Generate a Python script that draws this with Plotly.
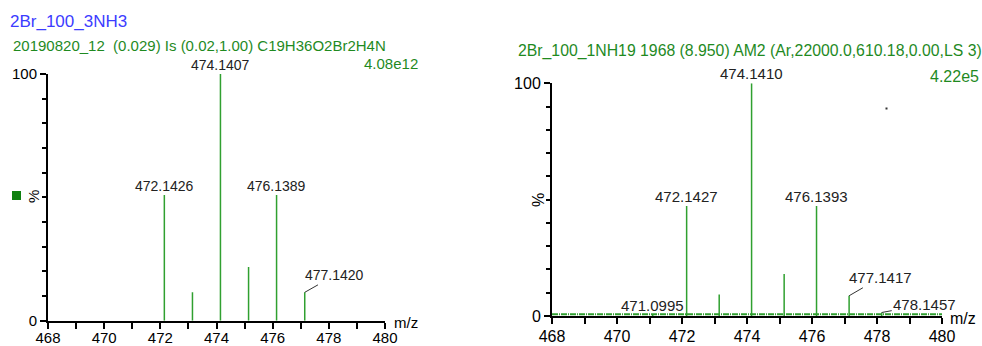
import plotly.graph_objects as go

# ---- data ----
left_mz = [472.1426, 473.1440, 474.1407, 475.1420, 476.1389, 477.1420]
left_int = [51.0, 11.5, 100.0, 21.8, 51.0, 11.5]
left_labels = ["472.1426", "", "474.1407", "", "476.1389", "477.1420"]

right_mz = [471.0995, 472.1427, 473.1445, 474.1410, 475.1430, 476.1393, 477.1417, 478.1457]
right_int = [0.6, 47.3, 9.2, 100.0, 18.0, 47.3, 8.7, 1.5]
right_labels = ["471.0995", "472.1427", "", "474.1410", "", "476.1393", "477.1417", "478.1457"]

noise_mz = [468.0, 480.0]
noise_level = [0.8, 0.8]

x_range = [468, 480]
y_range = [0, 100]

left_title = "2Br_100_3NH3"
left_info = "20190820_12 \u00a0(0.029) Is (0.02,1.00) C19H36O2Br2H4N"
left_scale = "4.08e12"
right_info = "2Br_100_1NH19 1968 (8.950) AM2 (Ar,22000.0,610.18,0.00,LS 3)"
right_scale = "4.22e5"

W, H = 982, 346
LINE_GREEN = "#30a030"
TEXT_GREEN = "#1f8a1f"
FONT = "Liberation Sans, Arial, sans-serif"


def stems(mz, inten):
    xs, ys = [], []
    for m, v in zip(mz, inten):
        xs += [m, m, None]
        ys += [0, v, None]
    return xs, ys


fig = go.Figure()
lx, ly = stems(left_mz, left_int)
fig.add_trace(go.Scatter(x=lx, y=ly, mode="lines", line=dict(color=LINE_GREEN, width=1.5),
                         xaxis="x", yaxis="y", hoverinfo="skip"))
fig.add_trace(go.Scatter(x=noise_mz, y=noise_level, mode="lines",
                         line=dict(color=LINE_GREEN, width=2, dash="6px,1px,1px,1px"),
                         xaxis="x2", yaxis="y2", hoverinfo="skip"))
rx, ry = stems(right_mz, right_int)
fig.add_trace(go.Scatter(x=rx, y=ry, mode="lines", line=dict(color=LINE_GREEN, width=1.5),
                         xaxis="x2", yaxis="y2", hoverinfo="skip"))


def px2x(px):
    return px / W


def px2y(py):
    return 1 - py / H


def xaxis_cfg(domain, anchor, fs, standoff):
    return dict(domain=domain, anchor=anchor, range=x_range, showgrid=False, zeroline=False,
                automargin=False, ticklabelstandoff=standoff,
                showline=True, linecolor="black", linewidth=2, ticks="outside", ticklen=6,
                tickwidth=1.5, tickcolor="black", tickmode="linear", tick0=468, dtick=2,
                tickfont=dict(family=FONT, size=fs, color="black"),
                minor=dict(dtick=1, tick0=468, ticks="outside", ticklen=6, tickwidth=1.5,
                           tickcolor="black"))


def yaxis_cfg(domain, anchor, fs):
    return dict(domain=domain, anchor=anchor, range=y_range, showgrid=False, zeroline=False,
                automargin=False,
                showline=True, linecolor="black", linewidth=2, ticks="outside", ticklen=6,
                tickwidth=1.5, tickcolor="black", tickmode="array", tickvals=[0, 100],
                ticktext=["0", "100"], tickfont=dict(family=FONT, size=fs, color="black"),
                minor=dict(dtick=10, tick0=0, ticks="outside", ticklen=4, tickwidth=1.5,
                           tickcolor="black"))


annotations = []


def peak_labels(mz, inten, labels, xref, yref, leaders, fs):
    for m, v, t in zip(mz, inten, labels):
        if not t:
            continue
        if t in leaders:
            axo, ayo = leaders[t]
            annotations.append(dict(x=m, y=v, xref=xref, yref=yref, text=t, showarrow=True,
                                    arrowhead=0, arrowwidth=1, arrowcolor="#333", ax=axo, ay=ayo,
                                    font=dict(family=FONT, size=fs, color="#222")))
        else:
            annotations.append(dict(x=m, y=v, xref=xref, yref=yref, text=t, showarrow=False,
                                    yanchor="bottom", yshift=-1,
                                    font=dict(family=FONT, size=fs, color="#222")))


peak_labels(left_mz, left_int, left_labels, "x", "y", {"477.1420": (30, -17)}, 14)
peak_labels(right_mz, right_int, right_labels, "x2", "y2",
            {"477.1417": (31, -18), "478.1457": (43, -8)}, 15)


def txt(px, py, text, color, size=14, xanchor="left", angle=0):
    annotations.append(dict(x=px2x(px), y=px2y(py), xref="paper", yref="paper", text=text,
                            showarrow=False, xanchor=xanchor, yanchor="middle", textangle=angle,
                            font=dict(family=FONT, size=size, color=color)))


txt(8, 21.5, left_title, "#3c3cff", size=17)
txt(11, 45.5, left_info, TEXT_GREEN, size=15)
txt(420, 63, left_scale, TEXT_GREEN, size=15, xanchor="right")
txt(516, 51.5, right_info, TEXT_GREEN, size=15.8)
txt(981, 76, right_scale, TEXT_GREEN, size=16, xanchor="right")
txt(33, 197, "%", "black", size=15, xanchor="center", angle=-90)
txt(538, 200, "%", "black", size=16, xanchor="center", angle=-90)
txt(406, 322, "m/z", "black", size=15, xanchor="center")
txt(963, 318, "m/z", "black", size=16, xanchor="center")

shapes = [
    dict(type="rect", xref="paper", yref="paper", x0=px2x(12), x1=px2x(21), y0=px2y(200),
         y1=px2y(191), fillcolor="#108010", line=dict(width=0)),
    dict(type="rect", xref="paper", yref="paper", x0=px2x(885.5), x1=px2x(887.5), y0=px2y(109.5),
         y1=px2y(107.5), fillcolor="#333", line=dict(width=0)),
]

fig.update_layout(
    template="none",
    width=W, height=H, margin=dict(l=0, r=0, t=0, b=0, pad=0),
    paper_bgcolor="white", plot_bgcolor="white", showlegend=False,
    xaxis=xaxis_cfg([px2x(48), px2x(385)], "y", 15, -4),
    yaxis=yaxis_cfg([px2y(320.7), px2y(74)], "x", 15),
    xaxis2=xaxis_cfg([px2x(552), px2x(942)], "y2", 16, -1),
    yaxis2=yaxis_cfg([px2y(316), px2y(83.3)], "x2", 16),
    annotations=annotations, shapes=shapes,
)

fig.write_html("out.html", config={"displayModeBar": False},
               post_script="document.body.style.margin='0';document.body.style.overflow='hidden';")
